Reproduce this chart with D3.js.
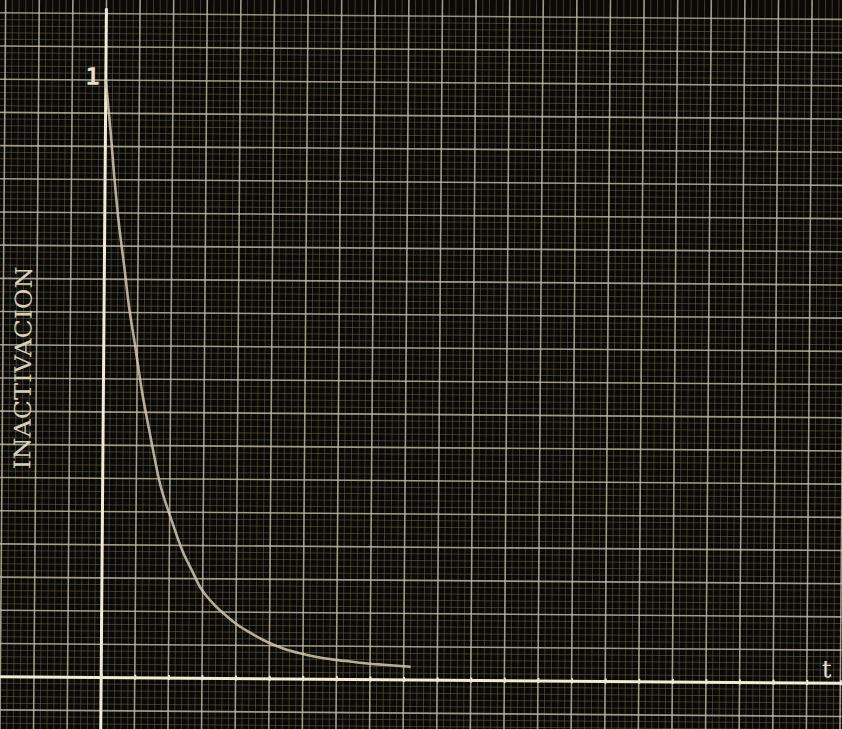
<!DOCTYPE html>
<html>
<head>
<meta charset="utf-8">
<script src="https://cdn.jsdelivr.net/npm/d3@7"></script>
<style>
  html, body { margin: 0; padding: 0; background: #0a0906; }
  svg { display: block; }
</style>
</head>
<body>
<svg id="chart"></svg>
<script>
// values (t in grid divisions, inactivation as a fraction of 1)
var tValues = [0, 0.16, 0.27, 0.40, 0.61, 0.72, 0.93, 1.14, 1.40, 1.68, 2.06, 2.42, 2.67, 2.92, 3.27, 3.62, 4.02, 4.42, 4.92, 5.41, 5.91, 6.41, 6.91, 7.41, 7.91, 8.41, 9.21];
var inactivation = [1.0, 0.91, 0.84, 0.77, 0.68, 0.63, 0.557, 0.482, 0.407, 0.331, 0.264, 0.209, 0.181, 0.153, 0.128, 0.109, 0.091, 0.077, 0.062, 0.051, 0.043, 0.037, 0.033, 0.030, 0.027, 0.025, 0.022];
var xTicks = d3.range(0, 23);
var yTickLabels = ["1"];
var yLabel = "INACTIVACION";
var xLabel = "t";

var width = 842;
var height = 729;

var svg = d3.select('#chart')
    .attr('width', width)
    .attr('height', height);

svg.append('rect')
    .attr('width', width)
    .attr('height', height)
    .attr('fill', '#0a0906');

// the photo is a touch rotated
var g = svg.append('g')
    .attr('transform', 'rotate(0.45, 421, 380)');

var x = d3.scaleLinear().domain([0, 22]).range([103.5, 103.5 + 22 * 33.6]);
var y = d3.scaleLinear().domain([0, 1]).range([680, 82.5]);

// graph paper: 5 minor cells per major, 18 majors up to 1
var xMinor = d3.range(-20, 131).map(d => d / 5);
var yMinor = d3.range(-20, 100).map(d => d / 90);
var xMajor = d3.range(-4, 27);
var yMajor = d3.range(-4, 21).map(d => d / 18);

g.selectAll('.vminor')
    .data(xMinor)
    .enter().append('line')
    .attr('class', 'vminor')
    .attr('x1', d => x(d)).attr('x2', d => x(d))
    .attr('y1', -20).attr('y2', height + 20)
    .style('stroke', '#6e6e52')
    .style('stroke-opacity', 0.5)
    .style('stroke-width', '1px');

g.selectAll('.hminor')
    .data(yMinor)
    .enter().append('line')
    .attr('class', 'hminor')
    .attr('y1', d => y(d)).attr('y2', d => y(d))
    .attr('x1', -20).attr('x2', width + 20)
    .style('stroke', '#6e6e52')
    .style('stroke-opacity', 0.5)
    .style('stroke-width', '1px');

g.selectAll('.vmajor')
    .data(xMajor)
    .enter().append('line')
    .attr('class', 'vmajor')
    .attr('x1', d => x(d)).attr('x2', d => x(d))
    .attr('y1', -20).attr('y2', height + 20)
    .style('stroke', '#c9c3ad')
    .style('stroke-opacity', 0.72)
    .style('stroke-width', '1.6px');

g.selectAll('.hmajor')
    .data(yMajor)
    .enter().append('line')
    .attr('class', 'hmajor')
    .attr('y1', d => y(d)).attr('y2', d => y(d))
    .attr('x1', -20).attr('x2', width + 20)
    .style('stroke', '#c9c3ad')
    .style('stroke-opacity', 0.72)
    .style('stroke-width', '1.6px');

// axes
var xAxis = d3.axisBottom(x)
    .tickValues(xTicks)
    .tickSizeInner(-5)
    .tickSizeOuter(0)
    .tickFormat('');

var xAxisG = g.append('g')
    .attr('transform', 'translate(0,' + y(0) + ')')
    .call(xAxis);
xAxisG.select('.domain').remove();
xAxisG.selectAll('.tick line')
    .attr('transform', 'translate(0,2)')
    .style('stroke', '#efe8cf')
    .style('stroke-width', '2px');

g.append('line')
    .attr('x1', x(-3.2)).attr('x2', width + 20)
    .attr('y1', y(0)).attr('y2', y(0))
    .style('stroke', '#f2ecd3')
    .style('stroke-width', '3px');

g.append('line')
    .attr('x1', x(0)).attr('x2', x(0))
    .attr('y1', y(1.12)).attr('y2', height + 20)
    .style('stroke', '#f2ecd3')
    .style('stroke-width', '3px');

// curve
var line = d3.line()
    .x((d, i) => x(tValues[i]))
    .y(d => y(d))
    .curve(d3.curveMonotoneX);

g.append('path')
    .datum(inactivation)
    .attr('d', line)
    .style('fill', 'none')
    .style('stroke', '#d2c8ac')
    .style('stroke-opacity', 0.85)
    .style('stroke-width', '2.6px');

// labels
g.selectAll('.ylab')
    .data(yTickLabels)
    .enter().append('text')
    .attr('class', 'ylab')
    .attr('x', x(0) - 6)
    .attr('y', y(1) + 5)
    .attr('text-anchor', 'end')
    .style('font-family', 'DejaVu Sans Mono, monospace')
    .style('font-weight', 'bold')
    .style('font-size', '24px')
    .style('fill', '#e6dfc8')
    .text(d => d);

g.append('text')
    .attr('transform', 'translate(31,' + 371 + ') rotate(-90)')
    .attr('text-anchor', 'middle')
    .attr('textLength', 203)
    .attr('lengthAdjust', 'spacingAndGlyphs')
    .style('font-family', 'DejaVu Serif, serif')
    .style('font-size', '23px')
    .style('fill', '#d8d0b6')
    .text(yLabel);

g.append('text')
    .attr('x', 829)
    .attr('y', 674)
    .attr('text-anchor', 'middle')
    .style('font-family', 'DejaVu Serif, serif')
    .style('font-size', '24px')
    .style('fill', '#e6dfc8')
    .text(xLabel);
</script>
</body>
</html>
